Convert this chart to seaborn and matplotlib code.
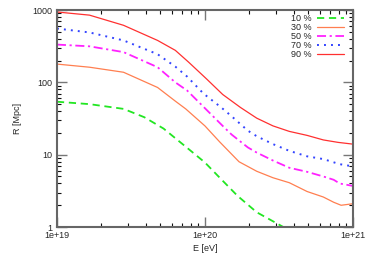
import matplotlib
matplotlib.use("Agg")
import matplotlib.pyplot as plt
import seaborn as sns
import pandas as pd
import numpy as np
from matplotlib.ticker import LogLocator, FixedLocator, NullFormatter

# ---- data ----
labels = ["10 %", "30 %", "50 %", "70 %", "90 %"]

logE_10 = [19.0, 19.22, 19.45, 19.59, 19.72, 19.9, 20.0, 20.1, 20.22, 20.35, 20.53, 20.6]
R_10 = [54, 50, 43, 33, 23, 11.5, 7.8, 4.8, 2.7, 1.6, 1.0, 0.85]

logE_30 = [19.0, 19.22, 19.45, 19.68, 19.8, 19.87, 20.0, 20.1, 20.23, 20.35, 20.46, 20.57, 20.69, 20.8, 20.87, 20.92, 21.0]
R_30 = [179, 162, 138, 85, 55, 43, 25, 15, 8.0, 5.9, 4.8, 4.1, 3.1, 2.6, 2.2, 2.0, 2.1]

logE_50 = [19.0, 19.22, 19.45, 19.68, 19.8, 19.88, 19.99, 20.12, 20.18, 20.29, 20.35, 20.46, 20.57, 20.69, 20.8, 20.87, 20.91, 21.0]
R_50 = [333, 315, 262, 162, 100, 77, 46, 25, 19, 12.6, 10.7, 8.3, 6.6, 5.8, 5.0, 4.5, 4.0, 3.7]

logE_70 = [19.0, 19.22, 19.45, 19.68, 19.8, 19.88, 19.99, 20.11, 20.18, 20.29, 20.35, 20.46, 20.57, 20.69, 20.8, 20.91, 21.0]
R_70 = [555, 490, 380, 245, 165, 120, 70, 45, 34, 21.5, 18, 14, 11.3, 9.5, 8.7, 7.4, 6.9]

logE_90 = [19.0, 19.22, 19.45, 19.68, 19.8, 19.89, 20.01, 20.12, 20.24, 20.35, 20.46, 20.57, 20.69, 20.8, 20.9, 21.0]
R_90 = [940, 850, 615, 380, 277, 190, 112, 68, 45, 32, 25, 21, 18.5, 16, 14.8, 14]

series = [(logE_10, R_10), (logE_30, R_30), (logE_50, R_50), (logE_70, R_70), (logE_90, R_90)]

colors = ["#22e622", "#ff7f50", "#ff22ff", "#3344ff", "#ff3030"]
styles = [(0, (4, 2.6)), "-", (0, (5, 2, 1.2, 2)), (0, (1, 2.6)), "-"]
widths = [1.3, 0.9, 1.3, 1.4, 0.9]

rows = []
for lab, (le, r) in zip(labels, series):
    for a, b in zip(le, r):
        rows.append({"E": 10.0 ** a, "R": b, "label": lab})
df = pd.DataFrame(rows)

sns.set_style("ticks")
plt.rcParams["font.family"] = ["Liberation Sans", "DejaVu Sans"]

fig = plt.figure(figsize=(3.9, 2.64), dpi=100)
ax = fig.add_axes([0.146, 0.14, 0.759, 0.822])

for lab, c, ls, lw in zip(labels, colors, styles, widths):
    sub = df[df["label"] == lab]
    sns.lineplot(data=sub, x="E", y="R", ax=ax, color=c, linestyle=ls,
                 linewidth=lw, label=lab, estimator=None, sort=False)

ax.set_xscale("log")
ax.set_yscale("log")
ax.set_xlim(1e19, 1e21)
ax.set_ylim(1, 1000)

ax.xaxis.set_major_locator(FixedLocator([1e19, 1e20, 1e21]))
ax.set_xticklabels(["1e+19", "1e+20", "1e+21"])
ax.yaxis.set_major_locator(FixedLocator([1, 10, 100, 1000]))
ax.set_yticklabels(["1", "10", "100", "1000"])
ax.xaxis.set_minor_locator(LogLocator(base=10, subs=np.arange(2, 10), numticks=20))
ax.yaxis.set_minor_locator(LogLocator(base=10, subs=np.arange(2, 10), numticks=20))
ax.xaxis.set_minor_formatter(NullFormatter())
ax.yaxis.set_minor_formatter(NullFormatter())

ax.tick_params(which="both", direction="in", top=True, right=True, labelsize=6.5, pad=3)
ax.tick_params(which="major", length=7, width=1.0, color="#777777")
ax.tick_params(which="minor", length=3.2, width=0.8, color="#111111")

for s in ax.spines.values():
    s.set_color("#666666")
    s.set_linewidth(1.5)

ax.set_xlabel("E [eV]", fontsize=6.5, labelpad=3)
ax.set_ylabel("R [Mpc]", fontsize=6.5, labelpad=8)

leg = ax.legend(loc="upper right", frameon=False, fontsize=6.5, markerfirst=False,
                handlelength=3.0, handletextpad=0.6, labelspacing=0.02,
                borderaxespad=0.3, bbox_to_anchor=(0.99, 1.012))

fig.savefig("out.png", dpi=100)
